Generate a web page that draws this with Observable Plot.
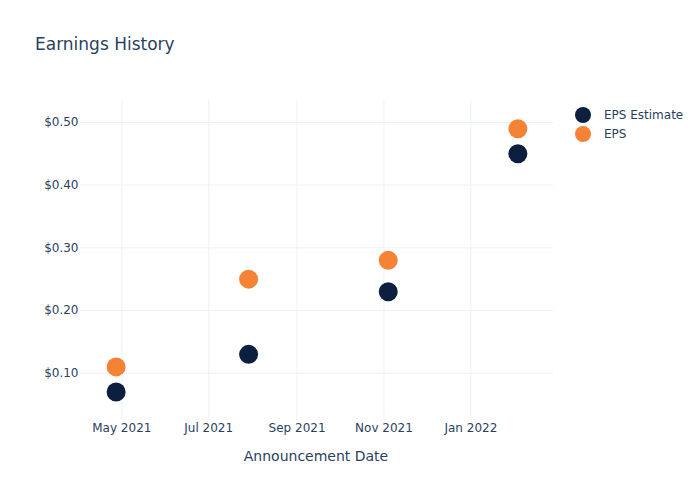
<!DOCTYPE html>
<html><head><meta charset="utf-8">
<script src="https://cdn.jsdelivr.net/npm/d3@7"></script>
<script src="https://cdn.jsdelivr.net/npm/@observablehq/plot@0.6"></script>
<style>
body{margin:0;background:#fff;font-family:"DejaVu Sans",sans-serif;color:#2a3f5f;}
#wrap{position:relative;width:700px;height:500px;overflow:hidden;}
#title{position:absolute;left:35px;top:33px;font-size:17px;line-height:22px;white-space:nowrap;}
#xlabel{position:absolute;left:216px;width:200px;top:446px;text-align:center;font-size:14px;line-height:20px;}
#legend{position:absolute;left:575px;top:105px;font-size:12px;}
.item{display:flex;align-items:center;height:19px;}
.sw{width:16px;height:16px;border-radius:50%;margin-right:13px;}
</style></head>
<body>
<div id="wrap">
<div id="chart"></div>
<div id="title">Earnings History</div>
<div id="xlabel">Announcement Date</div>
<div id="legend"></div>
</div>
<script>
const dates = ["2021-04-27","2021-07-29","2021-11-04","2022-02-03"];
const epsEstimate = [0.07, 0.13, 0.23, 0.45];
const epsActual = [0.11, 0.25, 0.28, 0.49];
const seriesNames = ["EPS Estimate", "EPS"];
const seriesColors = ["#0c1f3f", "#f58235"];
const yTicks = [0.1, 0.2, 0.3, 0.4, 0.5];
const xTicks = ["2021-05-01","2021-07-01","2021-09-01","2021-11-01","2022-01-01"];

const data = [];
dates.forEach((d, i) => data.push({date: new Date(d), value: epsEstimate[i], series: seriesNames[0]}));
dates.forEach((d, i) => data.push({date: new Date(d), value: epsActual[i], series: seriesNames[1]}));
const xTickDates = xTicks.map(d => new Date(d));

const chart = Plot.plot({
  width: 700, height: 500,
  marginLeft: 80, marginRight: 147, marginTop: 100, marginBottom: 80,
  style: {fontFamily: '"DejaVu Sans",sans-serif', fontSize: "12px", color: "#2a3f5f", background: "white"},
  x: {type: "utc", domain: [new Date("2021-04-02"), new Date("2022-02-28")]},
  y: {domain: [0.0245, 0.535]},
  color: {domain: seriesNames, range: seriesColors},
  marks: [
    Plot.gridX(xTickDates, {stroke: "#ebf0f8", strokeOpacity: 1, strokeWidth: 1}),
    Plot.gridY(yTicks, {stroke: "#ebf0f8", strokeOpacity: 1, strokeWidth: 1}),
    Plot.axisX(xTickDates, {tickSize: 0, tickPadding: 3, tickFormat: d3.utcFormat("%b %Y"), label: null, fill: "#2a3f5f"}),
    Plot.axisY(yTicks, {tickSize: 0, tickPadding: 2, tickFormat: d => "$" + d.toFixed(2), label: null, fill: "#2a3f5f"}),
    Plot.dot(data, {x: "date", y: "value", fill: "series", r: 9.5})
  ]
});
document.getElementById("chart").appendChild(chart);

const legend = document.getElementById("legend");
seriesNames.forEach((n, i) => {
  const it = document.createElement("div"); it.className = "item";
  const sw = document.createElement("div"); sw.className = "sw"; sw.style.background = seriesColors[i];
  const tx = document.createElement("span"); tx.textContent = n;
  it.appendChild(sw); it.appendChild(tx); legend.appendChild(it);
});
</script>
</body></html>
